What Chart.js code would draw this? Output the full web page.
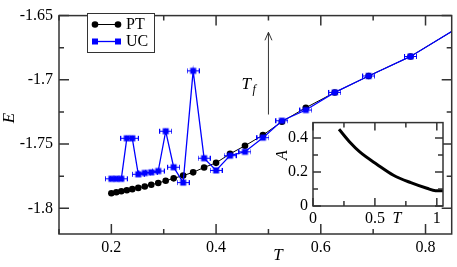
<!DOCTYPE html>
<html>
<head>
<meta charset="utf-8">
<script src="https://cdn.jsdelivr.net/npm/chart.js@4.4.0/dist/chart.umd.min.js"></script>
<style>
  body { margin: 0; background: #fff; }
  #wrap { position: relative; width: 457px; height: 267px; }
  #main { position: absolute; left: 0; top: 0; }
  #inset { position: absolute; left: 270px; top: 108px; }
</style>
</head>
<body>
<div id="wrap">
  <canvas id="main" width="457" height="267"></canvas>
  <canvas id="inset" width="182" height="125"></canvas>
</div>
<script>
// temperatures and energies
var ptT = [0.2, 0.2095, 0.219, 0.2295, 0.24, 0.2514, 0.2638, 0.2762, 0.2895, 0.3038, 0.319, 0.3371,
  0.3562, 0.3771, 0.4, 0.4267, 0.4552, 0.4895, 0.5257, 0.5714, 0.6267, 0.6914, 0.7714, 0.9];
var ptE = [-1.7883, -1.7875, -1.7867, -1.786, -1.7851, -1.7841, -1.783, -1.7817, -1.7803, -1.7786, -1.7767, -1.7745,
  -1.772, -1.7682, -1.7646, -1.7576, -1.7513, -1.743, -1.7326, -1.7217, -1.7098, -1.697, -1.6818, -1.65];
var ucT = ptT;
var ucE = [-1.777, -1.777, -1.777, -1.7455, -1.7455, -1.7735, -1.7725, -1.772, -1.771, -1.74, -1.768, -1.78,
  -1.693, -1.761, -1.7705, -1.759, -1.756, -1.745, -1.7318, -1.7235, -1.7098, -1.697, -1.6818, -1.65];

var xTicks = [0.2, 0.4, 0.6, 0.8];
var yTicks = [-1.8, -1.75, -1.7, -1.65];

// arrow marking T_f
var arrowT = 0.5;
var arrowFrom = -1.727;
var arrowTo = -1.663;

// inset: A(T)
var insetT = [0.21, 0.30, 0.38, 0.52, 0.65, 0.79, 0.92, 0.99, 1.05];
var insetA = [0.451, 0.373, 0.316, 0.243, 0.181, 0.137, 0.104, 0.090, 0.090];
var insetXTicks = [0, 0.5, 1];
var insetYTicks = [0, 0.2, 0.4];

var SERIF = "'Liberation Serif', 'DejaVu Serif', serif";
Chart.defaults.font.family = SERIF;
Chart.defaults.font.size = 16;
Chart.defaults.color = '#000';

function pts(xs, ys) {
  var out = [];
  for (var i = 0; i < xs.length; i++) out.push({x: xs[i], y: ys[i]});
  return out;
}

function ucMarker() {
  var c = document.createElement('canvas');
  c.width = 13; c.height = 9;
  var g = c.getContext('2d');
  g.fillStyle = '#0000ff';
  g.strokeStyle = '#0000ff';
  g.lineWidth = 1;
  g.fillRect(3.5, 1.5, 6, 6);
  g.beginPath();
  g.moveTo(0.5, 4.5); g.lineTo(12.5, 4.5);
  g.moveTo(0.5, 2); g.lineTo(0.5, 7);
  g.moveTo(12.5, 2); g.lineTo(12.5, 7);
  g.stroke();
  return c;
}
var ucPoint = ucMarker();

function setTicks(list) {
  return function(scale) {
    scale.ticks = list.map(function(v) { return {value: v}; });
  };
}

function plain(v) { return String(v); }

function steps(min, max, step) {
  var out = [];
  for (var v = Math.ceil(min / step - 1e-9) * step; v <= max + 1e-9; v += step) out.push(v);
  return out;
}

// inward ticks on all four sides plus the box
function frame(opts) {
  return {
    id: 'frame' + opts.name,
    beforeDraw: function(chart) {
      var a = chart.chartArea, ctx = chart.ctx;
      ctx.save();
      ctx.fillStyle = '#fff';
      ctx.fillRect(a.left, a.top, a.right - a.left, a.bottom - a.top);
      ctx.restore();
    },
    afterDraw: function(chart) {
      var a = chart.chartArea, ctx = chart.ctx;
      var xs = chart.scales.x, ys = chart.scales.y;
      ctx.save();
      ctx.strokeStyle = '#333';
      ctx.lineWidth = 1.5;
      ctx.beginPath();
      steps(xs.min, xs.max, opts.xMinor).forEach(function(v) {
        var px = xs.getPixelForValue(v);
        var major = opts.xMajor.some(function(m) { return Math.abs(m - v) < 1e-6; });
        var len = major ? opts.big : opts.small;
        ctx.moveTo(px, a.bottom); ctx.lineTo(px, a.bottom - len);
        ctx.moveTo(px, a.top); ctx.lineTo(px, a.top + len);
      });
      steps(ys.min, ys.max, opts.yMinor).forEach(function(v) {
        var py = ys.getPixelForValue(v);
        var major = opts.yMajor.some(function(m) { return Math.abs(m - v) < 1e-6; });
        var len = major ? opts.big : opts.small;
        ctx.moveTo(a.left, py); ctx.lineTo(a.left + len, py);
        ctx.moveTo(a.right, py); ctx.lineTo(a.right - len, py);
      });
      ctx.stroke();
      ctx.strokeRect(a.left, a.top, a.right - a.left, a.bottom - a.top);
      ctx.restore();
      if (opts.extra) opts.extra(chart);
    }
  };
}

function drawMainExtras(chart) {
  var ctx = chart.ctx;
  var xs = chart.scales.x, ys = chart.scales.y;
  ctx.save();
  // axis titles
  ctx.fillStyle = '#000';
  ctx.font = 'italic 17px ' + SERIF;
  ctx.textAlign = 'center';
  ctx.textBaseline = 'middle';
  ctx.fillText('T', 278, 256);
  ctx.translate(10, 118);
  ctx.rotate(-Math.PI / 2);
  ctx.fillText('E', 0, 0);
  ctx.restore();

  // arrow
  var ax = xs.getPixelForValue(arrowT);
  var y1 = ys.getPixelForValue(arrowFrom), y2 = ys.getPixelForValue(arrowTo);
  ctx.save();
  ctx.strokeStyle = '#333';
  ctx.lineWidth = 1;
  ctx.beginPath();
  ctx.moveTo(ax, y1); ctx.lineTo(ax, y2);
  ctx.moveTo(ax - 3.5, y2 + 8); ctx.lineTo(ax, y2); ctx.lineTo(ax + 3.5, y2 + 8);
  ctx.stroke();
  ctx.fillStyle = '#000';
  ctx.font = 'italic 17px ' + SERIF;
  ctx.textBaseline = 'alphabetic';
  ctx.fillText('T', ax - 27, 89);
  ctx.font = 'italic 12px ' + SERIF;
  ctx.fillText('f', ax - 16, 93);
  ctx.restore();

  // legend box
  ctx.save();
  ctx.strokeStyle = '#333';
  ctx.lineWidth = 1;
  ctx.fillStyle = '#fff';
  ctx.fillRect(87.5, 13.5, 67, 39);
  ctx.strokeRect(87.5, 13.5, 67, 39);
  ctx.strokeStyle = '#000';
  ctx.beginPath(); ctx.moveTo(95, 24.5); ctx.lineTo(118, 24.5); ctx.stroke();
  ctx.fillStyle = '#000';
  [95, 118].forEach(function(x) {
    ctx.beginPath(); ctx.arc(x, 24.5, 3.3, 0, Math.PI * 2); ctx.fill();
  });
  ctx.strokeStyle = '#0000ff';
  ctx.lineWidth = 1.3;
  ctx.beginPath(); ctx.moveTo(95, 41.5); ctx.lineTo(118, 41.5); ctx.stroke();
  ctx.fillStyle = '#0000ff';
  [95, 118].forEach(function(x) { ctx.fillRect(x - 3, 38.5, 6, 6); });
  ctx.fillStyle = '#000';
  ctx.font = '16px ' + SERIF;
  ctx.textAlign = 'left';
  ctx.textBaseline = 'middle';
  ctx.fillText('PT', 126, 25);
  ctx.fillText('UC', 126, 42);
  ctx.restore();
}

function drawInsetExtras(chart) {
  var ctx = chart.ctx;
  ctx.save();
  ctx.fillStyle = '#000';
  ctx.font = 'italic 16px ' + SERIF;
  ctx.textAlign = 'center';
  ctx.textBaseline = 'middle';
  ctx.fillText('T', 127, 111);
  ctx.translate(13, 47);
  ctx.rotate(-Math.PI / 2);
  ctx.fillText('A', 0, 0);
  ctx.restore();
}

var tickFont = {family: SERIF, size: 16};
var noGrid = {display: false, drawTicks: false, tickLength: 0};

new Chart(document.getElementById('main').getContext('2d'), {
  type: 'line',
  data: {
    datasets: [{
      label: 'PT',
      data: pts(ptT, ptE),
      borderColor: '#000',
      backgroundColor: '#000',
      borderWidth: 1,
      pointStyle: 'circle',
      pointRadius: 3.3,
      pointBorderWidth: 0,
      order: 2
    }, {
      label: 'UC',
      data: pts(ucT, ucE),
      borderColor: '#0000ff',
      backgroundColor: '#0000ff',
      borderWidth: 1.3,
      pointStyle: ucPoint,
      order: 1
    }]
  },
  options: {
    responsive: false,
    animation: false,
    devicePixelRatio: 1,
    layout: {padding: {top: 8, right: 3, left: 0, bottom: 0}},
    plugins: {legend: {display: false}, tooltip: {enabled: false}},
    scales: {
      x: {
        type: 'linear', min: 0.1, max: 0.85,
        grid: noGrid, border: {display: false},
        ticks: {font: tickFont, color: '#000', padding: 4, maxRotation: 0, callback: plain},
        afterBuildTicks: setTicks(xTicks),
        afterFit: function(s) { s.height = 33; }
      },
      y: {
        type: 'linear', min: -1.82, max: -1.65,
        grid: noGrid, border: {display: false},
        ticks: {font: tickFont, color: '#000', padding: 6, callback: plain},
        afterBuildTicks: setTicks(yTicks),
        afterFit: function(s) { s.width = 59; }
      }
    }
  },
  plugins: [frame({name: 'main', xMinor: 0.1, xMajor: xTicks, yMinor: 0.025, yMajor: yTicks,
    big: 10, small: 5, extra: drawMainExtras})]
});

new Chart(document.getElementById('inset').getContext('2d'), {
  type: 'line',
  data: {
    datasets: [{
      data: pts(insetT, insetA),
      borderColor: '#000',
      borderWidth: 3,
      pointRadius: 0,
      cubicInterpolationMode: 'monotone'
    }]
  },
  options: {
    responsive: false,
    animation: false,
    devicePixelRatio: 1,
    layout: {padding: {top: 13, right: 9, left: 0, bottom: 0}},
    plugins: {legend: {display: false}, tooltip: {enabled: false}},
    scales: {
      x: {
        type: 'linear', min: 0, max: 1.05,
        grid: noGrid, border: {display: false},
        ticks: {font: tickFont, color: '#000', padding: 3, maxRotation: 0, callback: plain},
        afterBuildTicks: setTicks(insetXTicks),
        afterFit: function(s) { s.height = 27; }
      },
      y: {
        type: 'linear', min: 0, max: 0.49,
        grid: noGrid, border: {display: false},
        ticks: {font: tickFont, color: '#000', padding: 5, callback: plain},
        afterBuildTicks: setTicks(insetYTicks),
        afterFit: function(s) { s.width = 43; }
      }
    }
  },
  plugins: [frame({name: 'inset', xMinor: 0.25, xMajor: insetXTicks, yMinor: 0.1, yMajor: insetYTicks,
    big: 8, small: 5, extra: drawInsetExtras})]
});
</script>
</body>
</html>
